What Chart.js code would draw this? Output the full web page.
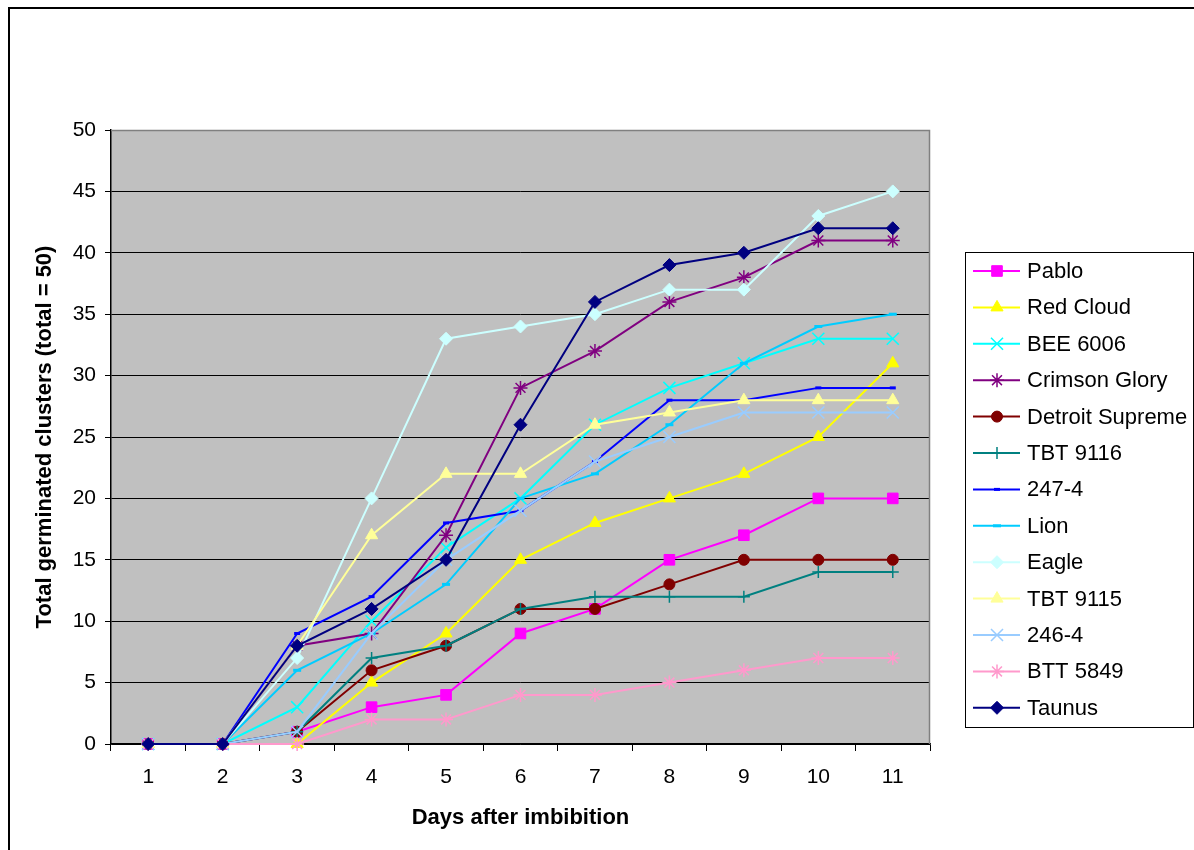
<!DOCTYPE html>
<html>
<head>
<meta charset="utf-8">
<script src="https://cdn.jsdelivr.net/npm/chart.js"></script>
<style>
  html, body { margin: 0; padding: 0; background: #fff; }
  #wrap { width: 1194px; height: 850px; }
</style>
</head>
<body>
<div id="wrap"><canvas id="chart" width="1194" height="850"></canvas></div>
<script>
// Days after imbibition
var days = ['1', '2', '3', '4', '5', '6', '7', '8', '9', '10', '11'];

// Total germinated clusters per line
var pablo          = [0, 0, 1, 3, 4, 9, 11, 15, 17, 20, 20];
var redCloud       = [0, 0, 0, 5, 9, 15, 18, 20, 22, 25, 31];
var bee6006        = [0, 0, 3, 10, 16, 20, 26, 29, 31, 33, 33];
var crimsonGlory   = [0, 0, 8, 9, 17, 29, 32, 36, 38, 41, 41];
var detroitSupreme = [0, 0, 1, 6, 8, 11, 11, 13, 15, 15, 15];
var tbt9116        = [0, 0, 1, 7, 8, 11, 12, 12, 12, 14, 14];
var line2474       = [0, 0, 9, 12, 18, 19, 23, 28, 28, 29, 29];
var lion           = [0, 0, 6, 9, 13, 20, 22, 26, 31, 34, 35];
var eagle          = [0, 0, 7, 20, 33, 34, 35, 37, 37, 43, 45];
var tbt9115        = [0, 0, 8, 17, 22, 22, 26, 27, 28, 28, 28];
var line2464       = [0, 0, 1, 9, 15, 19, 23, 25, 27, 27, 27];
var btt5849        = [0, 0, 0, 2, 2, 4, 4, 5, 6, 7, 7];
var taunus         = [0, 0, 8, 11, 15, 26, 36, 39, 40, 42, 42];

var yTicks = [0, 5, 10, 15, 20, 25, 30, 35, 40, 45, 50];

// series list: name, values, colour, marker, marker radius
var series = [
  ['Pablo', pablo, '#FF00FF', 'rect', 7.5],
  ['Red Cloud', redCloud, '#FFFF00', 'triangle', 7],
  ['BEE 6006', bee6006, '#00FFFF', 'crossRot', 8.5],
  ['Crimson Glory', crimsonGlory, '#800080', 'star', 7],
  ['Detroit Supreme', detroitSupreme, '#800000', 'circle', 5.5],
  ['TBT 9116', tbt9116, '#008080', 'cross', 6],
  ['247-4', line2474, '#0000FF', 'line', 3],
  ['Lion', lion, '#00CCFF', 'line', 4],
  ['Eagle', eagle, '#CCFFFF', 'rectRot', 6.5],
  ['TBT 9115', tbt9115, '#FFFF99', 'triangle', 7],
  ['246-4', line2464, '#99CCFF', 'crossRot', 8.5],
  ['BTT 5849', btt5849, '#FF99CC', 'star', 7],
  ['Taunus', taunus, '#000080', 'rectRot', 6.5]
];

var datasets = series.map(function (s, i) {
  var stroked = (s[3] === 'crossRot' || s[3] === 'star' || s[3] === 'cross' || s[3] === 'line');
  return {
    label: s[0],
    data: s[1],
    borderColor: s[2],
    backgroundColor: s[2],
    borderWidth: 2,
    pointStyle: s[3],
    pointRadius: s[4],
    pointHoverRadius: s[4],
    pointBackgroundColor: s[2],
    pointBorderColor: s[2],
    pointBorderWidth: s[3] === 'line' ? 3 : (stroked ? 1.5 : 1),
    tension: 0,
    clip: false,
    order: series.length - i  // later series drawn on top, like the original
  };
});

// background, frames and the boxed legend
var decor = {
  id: 'decor',
  beforeDraw: function (chart) {
    var ctx = chart.ctx, a = chart.chartArea;
    ctx.save();
    ctx.fillStyle = '#fff';
    ctx.fillRect(0, 0, chart.width, chart.height);
    ctx.fillStyle = '#C0C0C0';
    ctx.fillRect(a.left, a.top, a.right - a.left, a.bottom - a.top);
    ctx.strokeStyle = '#000';
    ctx.lineWidth = 2;
    ctx.strokeRect(9, 8, chart.width + 20, chart.height + 20);
    ctx.restore();
  },
  beforeDatasetsDraw: function (chart) {
    var ctx = chart.ctx, a = chart.chartArea;
    ctx.save();
    ctx.strokeStyle = '#808080';
    ctx.lineWidth = 1.5;
    ctx.beginPath();
    ctx.moveTo(a.left, a.top + 0.5);
    ctx.lineTo(a.right - 0.5, a.top + 0.5);
    ctx.lineTo(a.right - 0.5, a.bottom);
    ctx.stroke();
    ctx.restore();
  },
  afterDraw: function (chart) {
    var ctx = chart.ctx;
    ctx.save();
    ctx.strokeStyle = '#000';
    ctx.lineWidth = 1;
    ctx.strokeRect(965.5, 252.5, 228, 475);
    ctx.font = '22px "Liberation Sans", Arial, sans-serif';
    ctx.textBaseline = 'middle';
    chart.data.datasets.forEach(function (ds, i) {
      var y = 271 + i * 36.4;
      ctx.strokeStyle = ds.borderColor;
      ctx.lineWidth = 2;
      ctx.beginPath();
      ctx.moveTo(973, y);
      ctx.lineTo(1020, y);
      ctx.stroke();
      ctx.fillStyle = ds.pointBackgroundColor;
      ctx.strokeStyle = ds.pointBorderColor;
      ctx.lineWidth = ds.pointBorderWidth;
      Chart.helpers.drawPoint(ctx, {pointStyle: ds.pointStyle, radius: ds.pointRadius, borderWidth: ds.pointBorderWidth, rotation: 0}, 997, y);
      ctx.fillStyle = '#000';
      ctx.fillText(ds.label, 1027, y + 1);
    });
    ctx.restore();
  }
};

var tickFont = { family: '"Liberation Sans", Arial, sans-serif', size: 21 };
var titleFont = { family: '"Liberation Sans", Arial, sans-serif', size: 22, weight: 'bold' };

new Chart(document.getElementById('chart'), {
  type: 'line',
  data: { labels: days, datasets: datasets },
  plugins: [decor],
  options: {
    responsive: false,
    animation: false,
    events: [],
    layout: { padding: { left: 0, right: 264, top: 130, bottom: 0 } },
    plugins: {
      legend: { display: false },
      tooltip: { enabled: false }
    },
    scales: {
      x: {
        type: 'category',
        offset: true,
        grid: { display: true, offset: true, drawOnChartArea: false, drawTicks: true, tickLength: 7, color: '#000', lineWidth: 1 },
        border: { display: true, color: '#000', width: 1.5 },
        ticks: { color: '#000', font: tickFont, padding: 14, maxRotation: 0, autoSkip: false },
        title: { display: true, text: 'Days after imbibition', color: '#000', font: titleFont, padding: { top: 0, bottom: 19 } },
        afterFit: function (scale) { scale.height = 106; }
      },
      y: {
        min: 0,
        max: 50,
        afterBuildTicks: function (scale) {
          scale.ticks = yTicks.map(function (v) { return { value: v }; });
        },
        grid: { color: '#000', lineWidth: 1, drawTicks: true, tickLength: 6 },
        border: { display: true, color: '#000', width: 1.5 },
        ticks: { color: '#000', font: tickFont, padding: 9 },
        title: { display: true, text: 'Total germinated clusters (total = 50)', color: '#000', font: titleFont, padding: { top: 32, bottom: 0 } },
        afterFit: function (scale) { scale.width = 111; }
      }
    }
  }
});
</script>
</body>
</html>
